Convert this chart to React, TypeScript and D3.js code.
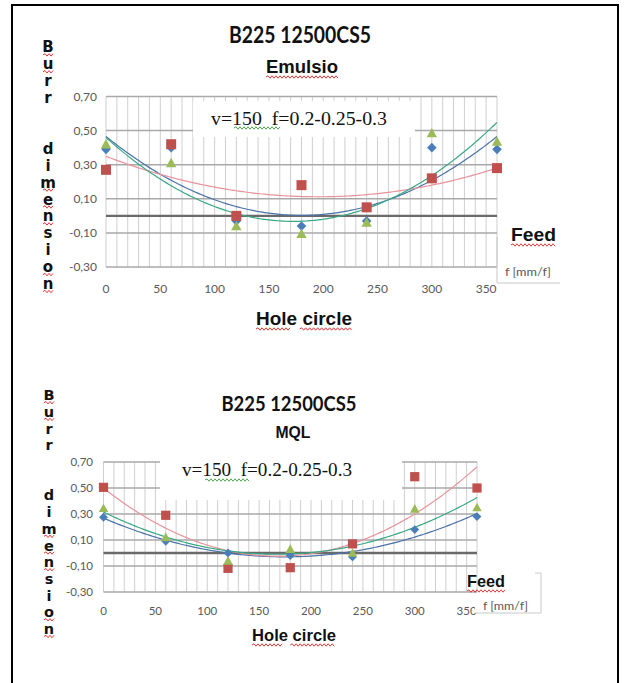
import React from "react";
import * as d3 from "d3";

// ---------- data ----------
const holeCircle = [0, 60, 120, 180, 240, 300, 360];

const emulsioBlue = [0.39, 0.40, -0.03, -0.06, -0.03, 0.40, 0.39];
const emulsioRed = [0.27, 0.42, 0.0, 0.18, 0.05, 0.22, 0.28];
const emulsioGreen = [0.42, 0.31, -0.06, -0.105, -0.04, 0.485, 0.435];

const mqlBlue = [0.275, 0.09, 0.0, -0.02, -0.03, 0.18, 0.28];
const mqlRed = [0.505, 0.29, -0.118, -0.113, 0.07, 0.587, 0.5];
const mqlGreen = [0.344, 0.12, -0.06, 0.03, 0.0, 0.34, 0.35];

const xTickValues = [0, 50, 100, 150, 200, 250, 300, 350];
const yTickValues = [0.7, 0.5, 0.3, 0.1, -0.1, -0.3];
const xDomain = [0, 360];
const yDomain = [-0.3, 0.7];

const chartTitle = "B225 12500CS5";
const subtitles = ["Emulsio", "MQL"];
const annotation = "v=150\u00a0\u00a0f=0.2-0.25-0.3";
const xAxisTitle = "Hole circle";
const yAxisLetters = ["B", "u", "r", "r", "", "", "d", "i", "m", "e", "n", "s", "i", "o", "n"];
const legendTitle = "Feed";
const legendUnit = "f [mm/f]";

// ---------- helpers ----------
const COL = {
  blue: "#4a7ebb",
  red: "#c0504d",
  green: "#9bbb59",
  blueTrend: "#4a72a8",
  redTrend: "#e8939c",
  greenTrend: "#38a884",
  grid: "#cfcfcf",
  hgrid: "#a9a9a9",
  zero: "#6a6a6a",
  tick: "#595959",
};

function quadFit(xs: number[], ys: number[]) {
  let s0 = 0, s1 = 0, s2 = 0, s3 = 0, s4 = 0, t0 = 0, t1 = 0, t2 = 0;
  xs.forEach((x, i) => {
    const y = ys[i];
    s0 += 1; s1 += x; s2 += x * x; s3 += x ** 3; s4 += x ** 4;
    t0 += y; t1 += x * y; t2 += x * x * y;
  });
  const det = (m: number[][]) =>
    m[0][0] * (m[1][1] * m[2][2] - m[1][2] * m[2][1]) -
    m[0][1] * (m[1][0] * m[2][2] - m[1][2] * m[2][0]) +
    m[0][2] * (m[1][0] * m[2][1] - m[1][1] * m[2][0]);
  const M = [[s0, s1, s2], [s1, s2, s3], [s2, s3, s4]];
  const T = [t0, t1, t2];
  const D = det(M);
  const rep = (col: number) => M.map((row, r) => row.map((v, c) => (c === col ? T[r] : v)));
  const a = det(rep(0)) / D, b = det(rep(1)) / D, c = det(rep(2)) / D;
  return (x: number) => a + b * x + c * x * x;
}

function squiggle(x1: number, x2: number, y: number, color: string, key?: string) {
  let d = `M${x1},${y}`;
  let up = true;
  for (let x = x1 + 2; x <= x2; x += 2) {
    d += ` L${x},${up ? y - 1.2 : y + 1.2}`;
    up = !up;
  }
  return <path key={key} d={d} fill="none" stroke={color} strokeWidth={0.9} />;
}

const fmtY = (v: number) => d3.format(".2f")(v).replace(".", ",").replace("−", "-");

type Layout = {
  x0: number; x1: number; yTop: number; yBot: number;
  box: [number, number, number, number];
  annX: number; annY: number; annLen: number; annFont: number;
  sq150: [number, number, number];
  tickFont: number; yLabelRight: number; xLabelY: number;
  markerScale: number;
  title: { cx: number; y: number; len: number; size: number };
  sub: { cx: number; y: number; len: number; size: number; squiggle: boolean };
  hole: { cx: number; y: number; len: number; size: number };
  letters: { x: number; y0: number; step: number; size: number };
};

function Chart({ L, blue, red, green, sub, feed }: { L: Layout; blue: number[]; red: number[]; green: number[]; sub: string; feed: React.ReactNode }) {
  const x = d3.scaleLinear().domain(xDomain).range([L.x0, L.x1]);
  const y = d3.scaleLinear().domain(yDomain).range([L.yBot, L.yTop]);
  const minor = d3.range(xDomain[0], xDomain[1] + 1, 10);
  const s = L.markerScale;

  const series = [
    { vals: blue, color: COL.blue, trend: COL.blueTrend, shape: "diamond" },
    { vals: red, color: COL.red, trend: COL.redTrend, shape: "square" },
    { vals: green, color: COL.green, trend: COL.greenTrend, shape: "triangle" },
  ];
  const samples = d3.range(xDomain[0], xDomain[1] + 0.1, 2);
  const line = d3.line<[number, number]>().x((d) => x(d[0])).y((d) => y(d[1]));

  const marker = (shape: string, cx: number, cy: number, color: string, key: string) => {
    if (shape === "square")
      return <rect key={key} x={cx - 5 * s} y={cy - 5 * s} width={10 * s} height={10 * s} fill={color} />;
    if (shape === "diamond") {
      const r = 4.8 * s;
      return <path key={key} d={`M${cx},${cy - r}L${cx + r},${cy}L${cx},${cy + r}L${cx - r},${cy}Z`} fill={color} />;
    }
    const r = 5.2 * s;
    return <path key={key} d={`M${cx},${cy - r}L${cx + r},${cy + r * 0.8}L${cx - r},${cy + r * 0.8}Z`} fill={color} />;
  };

  const holeWords = xAxisTitle.split(" ");

  return (
    <g>
      <text x={L.title.cx} y={L.title.y} textAnchor="middle" fontFamily="Lato, sans-serif" fontWeight="bold" fontSize={L.title.size} textLength={L.title.len} lengthAdjust="spacingAndGlyphs" fill="#111">{chartTitle}</text>
      <text x={L.sub.cx} y={L.sub.y} textAnchor="middle" fontFamily="Liberation Sans, Arial, sans-serif" fontWeight="bold" fontSize={L.sub.size} textLength={L.sub.len} lengthAdjust="spacingAndGlyphs" fill="#111">{sub}</text>
      {L.sub.squiggle && squiggle(L.sub.cx - L.sub.len / 2, L.sub.cx + L.sub.len / 2, L.sub.y + 4, "#e02020")}

      {yAxisLetters.map((ch, i) => {
        const cy = L.letters.y0 + i * L.letters.step;
        if (!ch) return null;
        const wavy = ["B", "u", "m", "e", "o", "n"].includes(ch);
        return (
          <g key={"l" + i}>
            <text x={L.letters.x} y={cy + L.letters.size * 0.36} textAnchor="middle" fontFamily="DejaVu Sans, sans-serif" fontWeight="bold" fontSize={L.letters.size} fill="#111">{ch}</text>
            {wavy && squiggle(L.letters.x - 5, L.letters.x + 5, cy + L.letters.size * 0.36 + 2.5, "#e02020")}
          </g>
        );
      })}

      {minor.map((v) => (
        <line key={"v" + v} x1={x(v)} x2={x(v)} y1={L.yTop} y2={L.yBot} stroke={COL.grid} strokeWidth={1} />
      ))}
      {yTickValues.map((v) => (
        <line key={"h" + v} x1={L.x0} x2={L.x1} y1={y(v)} y2={y(v)} stroke={COL.hgrid} strokeWidth={1.5} />
      ))}
      <rect x={L.box[0]} y={L.box[1]} width={L.box[2] - L.box[0]} height={L.box[3] - L.box[1]} fill="#fff" />
      <text x={L.annX} y={L.annY} fontFamily="Liberation Serif, Times New Roman, serif" fontSize={L.annFont} textLength={L.annLen} lengthAdjust="spacingAndGlyphs" fill="#111">{annotation}</text>
      {squiggle(L.sq150[0], L.sq150[1], L.sq150[2], "#3a9a3a")}

      <line x1={L.x0} x2={L.x1} y1={y(0)} y2={y(0)} stroke={COL.zero} strokeWidth={2.4} />

      {series.map((se, i) => {
        const f = quadFit(holeCircle, se.vals);
        const pts = samples.map((v) => [v, f(v)] as [number, number]);
        return <path key={"t" + i} d={line(pts) || ""} fill="none" stroke={se.trend} strokeWidth={1.2} />;
      })}

      {series.map((se, i) => (
        <g key={"m" + i}>
          {se.vals.map((v, j) => marker(se.shape, x(holeCircle[j]), y(v), se.color, `${i}-${j}`))}
        </g>
      ))}

      {yTickValues.map((v) => (
        <text key={"yl" + v} x={L.yLabelRight} y={y(v) + L.tickFont * 0.35} textAnchor="end" fontFamily="Lato, sans-serif" fontSize={L.tickFont} fill={COL.tick}>{fmtY(v)}</text>
      ))}
      {xTickValues.map((v) => (
        <text key={"xl" + v} x={x(v)} y={L.xLabelY} textAnchor="middle" fontFamily="Lato, sans-serif" fontSize={L.tickFont} fill={COL.tick}>{v}</text>
      ))}

      <text x={L.hole.cx} y={L.hole.y} textAnchor="middle" fontFamily="Liberation Sans, Arial, sans-serif" fontWeight="bold" fontSize={L.hole.size} textLength={L.hole.len} lengthAdjust="spacingAndGlyphs" fill="#111">{xAxisTitle}</text>
      {(() => {
        const left = L.hole.cx - L.hole.len / 2;
        const w1 = L.hole.len * (holeWords[0].length / xAxisTitle.length);
        const w2start = left + L.hole.len * ((holeWords[0].length + 1) / xAxisTitle.length);
        return (
          <g>
            {squiggle(left, left + w1, L.hole.y + 4, "#e02020")}
            {squiggle(w2start, left + L.hole.len, L.hole.y + 4, "#e02020")}
          </g>
        );
      })()}

      {feed}
    </g>
  );
}

const topLayout: Layout = {
  x0: 106, x1: 497, yTop: 96.5, yBot: 267,
  box: [193, 101, 415, 137],
  annX: 211, annY: 124.5, annLen: 176, annFont: 19,
  sq150: [234, 280, 128],
  tickFont: 12, yLabelRight: 97, xLabelY: 292.5,
  markerScale: 1,
  title: { cx: 300, y: 43, len: 142, size: 22 },
  sub: { cx: 302, y: 73, len: 72, size: 19, squiggle: true },
  hole: { cx: 304, y: 325, len: 96, size: 19 },
  letters: { x: 48, y0: 47, step: 16.9, size: 15 },
};

const bottomLayout: Layout = {
  x0: 103.5, x1: 477, yTop: 462, yBot: 592,
  box: [160, 454, 402, 500],
  annX: 182, annY: 476, annLen: 170, annFont: 18,
  sq150: [205, 250, 480],
  tickFont: 11.5, yLabelRight: 93, xLabelY: 615,
  markerScale: 0.92,
  title: { cx: 289, y: 411, len: 135, size: 21 },
  sub: { cx: 293, y: 438, len: 35, size: 17, squiggle: false },
  hole: { cx: 294, y: 641, len: 84, size: 17 },
  letters: { x: 49, y0: 395, step: 16.7, size: 14.5 },
};

export default function App() {
  const topFeed = (
    <g>
      <line x1={497} x2={497} y1={237} y2={283} stroke="#c8c8c8" strokeWidth={1} />
      <line x1={497} x2={560} y1={283} y2={283} stroke="#c8c8c8" strokeWidth={1} />
      <text x={511} y={241} fontFamily="Liberation Sans, Arial, sans-serif" fontWeight="bold" fontSize={19} textLength={45} lengthAdjust="spacingAndGlyphs" fill="#111">{legendTitle}</text>
      {squiggle(511, 556, 245, "#e02020")}
      <text x={505} y={276} fontFamily="Lato, sans-serif" fontSize={11} textLength={46} lengthAdjust="spacingAndGlyphs" fill={COL.tick}>{legendUnit}</text>
    </g>
  );
  const bottomFeed = (
    <g>
      <rect x={475} y={598} width={66} height={15} fill="#fff" />
      <line x1={541} x2={541} y1={573} y2={613} stroke="#c8c8c8" strokeWidth={1} />
      <line x1={535} x2={541} y1={573} y2={573} stroke="#c8c8c8" strokeWidth={1} />
      <line x1={475} x2={541} y1={613} y2={613} stroke="#c8c8c8" strokeWidth={1} />
      <text x={467} y={587} fontFamily="Liberation Sans, Arial, sans-serif" fontWeight="bold" fontSize={17} textLength={38} lengthAdjust="spacingAndGlyphs" fill="#111">{legendTitle}</text>
      {squiggle(467, 505, 591, "#e02020")}
      <text x={483} y={610} fontFamily="Lato, sans-serif" fontSize={10.5} textLength={45} lengthAdjust="spacingAndGlyphs" fill={COL.tick}>{legendUnit}</text>
    </g>
  );

  return (
    <svg width={627} height={683} style={{ position: "absolute", left: 0, top: 0, background: "#fff" }}>
      <rect x={0} y={0} width={627} height={683} fill="#fff" />
      <path d="M12,690 L12,5 L618,5 L618,690" fill="none" stroke="#000" strokeWidth={2} />
      <Chart L={topLayout} blue={emulsioBlue} red={emulsioRed} green={emulsioGreen} sub={subtitles[0]} feed={topFeed} />
      <Chart L={bottomLayout} blue={mqlBlue} red={mqlRed} green={mqlGreen} sub={subtitles[1]} feed={bottomFeed} />
    </svg>
  );
}
